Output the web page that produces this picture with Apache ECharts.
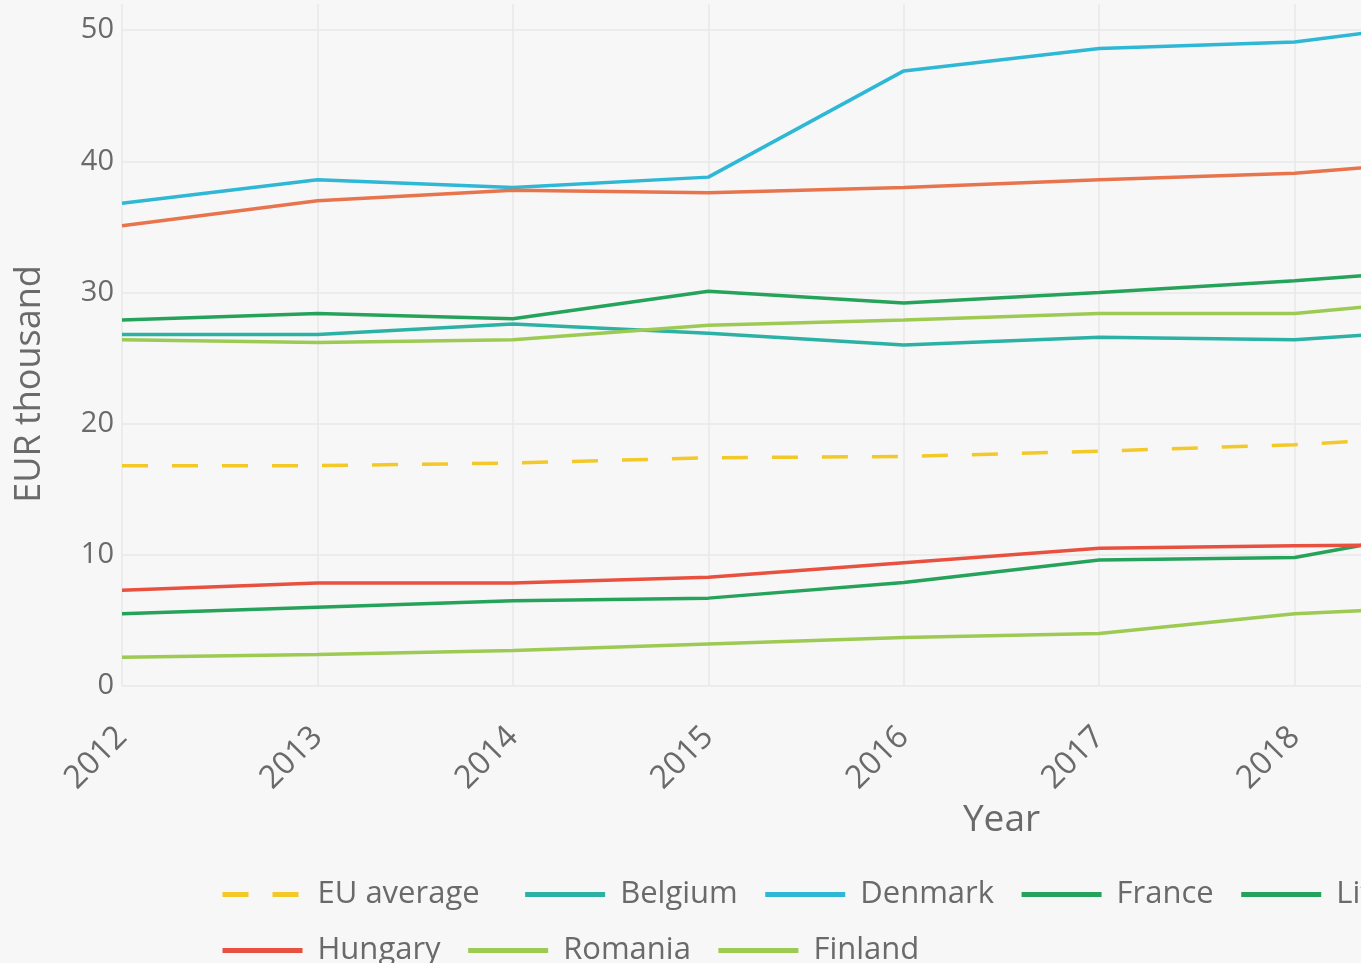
<!DOCTYPE html>
<html>
<head>
<meta charset="utf-8">
<script src="https://cdn.jsdelivr.net/npm/echarts@6/dist/echarts.min.js"></script>
<style>
  html, body { margin: 0; padding: 0; overflow: hidden; background: #f7f7f7; }
  /* the reference is a crop of a wider figure, so the chart runs past the right edge */
  #chart { width: 1960px; height: 963px; }
</style>
</head>
<body>
<div id="chart"></div>
<script>
// years on the x axis (the figure continues past 2018, cut off on the right)
const years = ['2012', '2013', '2014', '2015', '2016', '2017', '2018', '2019', '2020', '2021'];
const yTicks = [0, 10, 20, 30, 40, 50];

// EUR thousand
const euAverage   = [16.8, 16.8, 17.0, 17.4, 17.5, 17.9, 18.4, 19.2];
const belgium     = [26.8, 26.8, 27.6, 26.9, 26.0, 26.6, 26.4, 27.4];
const denmark     = [36.8, 38.6, 38.0, 38.8, 46.9, 48.6, 49.1, 51.0];
const france      = [27.9, 28.4, 28.0, 30.1, 29.2, 30.0, 30.9, 32.0];
const lithuania   = [5.5, 6.0, 6.5, 6.7, 7.9, 9.6, 9.8, 12.5];
const netherlands = [35.1, 37.0, 37.8, 37.6, 38.0, 38.6, 39.1, 40.3];
const hungary     = [7.3, 7.85, 7.85, 8.3, 9.4, 10.5, 10.7, 10.8];
const romania     = [2.2, 2.4, 2.7, 3.2, 3.7, 4.0, 5.5, 6.2];
const finland     = [26.4, 26.2, 26.4, 27.5, 27.9, 28.4, 28.4, 29.8];

const FONT = '"Open Sans", "Noto Sans", sans-serif';
const TEXT = '#6a6a6a';

const mkLine = (name, data, color, dashed) => ({
  name: name,
  type: 'line',
  data: data,
  symbol: 'none',
  smooth: false,
  lineStyle: { color: color, width: 3.5, type: dashed ? [26, 24] : 'solid' },
  itemStyle: { color: color },
  z: dashed ? 1 : 2
});

const chart = echarts.init(document.getElementById('chart'));

chart.setOption({
  animation: false,
  backgroundColor: '#f7f7f7',
  textStyle: { fontFamily: FONT },
  grid: { left: 122, right: 79, top: 4, bottom: 277, containLabel: false },
  xAxis: {
    type: 'category',
    data: years,
    boundaryGap: false,
    name: 'Year',
    nameLocation: 'middle',
    nameGap: 112,
    nameTextStyle: { fontSize: 37, color: TEXT, fontFamily: FONT },
    axisLine: { show: false },
    axisTick: { show: false },
    axisLabel: { rotate: 45, margin: 46, fontSize: 32, color: TEXT, fontFamily: FONT },
    splitLine: { show: true, lineStyle: { color: '#e8e8e8', width: 1.5 } }
  },
  yAxis: {
    type: 'value',
    min: 0,
    max: 52,
    interval: 10,
    axisLine: { show: false },
    axisTick: { show: false },
    axisLabel: {
      margin: 8,
      fontSize: 29,
      color: TEXT,
      fontFamily: FONT,
      formatter: v => (yTicks.indexOf(v) >= 0 ? String(v) : '')
    },
    splitLine: { show: true, showMaxLine: false, lineStyle: { color: '#e8e8e8', width: 1.5 } }
  },
  legend: {
    left: 215,
    top: 874,
    width: 1660,
    orient: 'horizontal',
    itemWidth: 80,
    itemHeight: 14,
    itemGap: 25,
    lineStyle: { width: 5 },
    itemStyle: { opacity: 0 },
    textStyle: { fontSize: 31, color: TEXT, fontFamily: FONT, lineHeight: 22, padding: [0, 0, 0, 10] },
    data: [
      { name: 'EU average', textStyle: { padding: [0, 18, 0, 10] } },
      'Belgium', 'Denmark', 'France', 'Lithuania', 'Netherlands', 'Hungary', 'Romania', 'Finland'
    ]
  },
  graphic: [{
    type: 'text',
    x: 30,
    y: 384,
    rotation: Math.PI / 2,
    style: {
      text: 'EUR thousand',
      fontSize: 36,
      fontFamily: FONT,
      fill: TEXT,
      align: 'center',
      verticalAlign: 'middle'
    }
  }],
  series: [
    mkLine('EU average', euAverage, '#f3c928', true),
    mkLine('Belgium', belgium, '#2cb2a4'),
    mkLine('Denmark', denmark, '#2fb7d6'),
    mkLine('France', france, '#26a35b'),
    mkLine('Lithuania', lithuania, '#26a35b'),
    mkLine('Netherlands', netherlands, '#e8744e'),
    mkLine('Hungary', hungary, '#e8513f'),
    mkLine('Romania', romania, '#9dca53'),
    mkLine('Finland', finland, '#9dca53')
  ]
});
</script>
</body>
</html>
